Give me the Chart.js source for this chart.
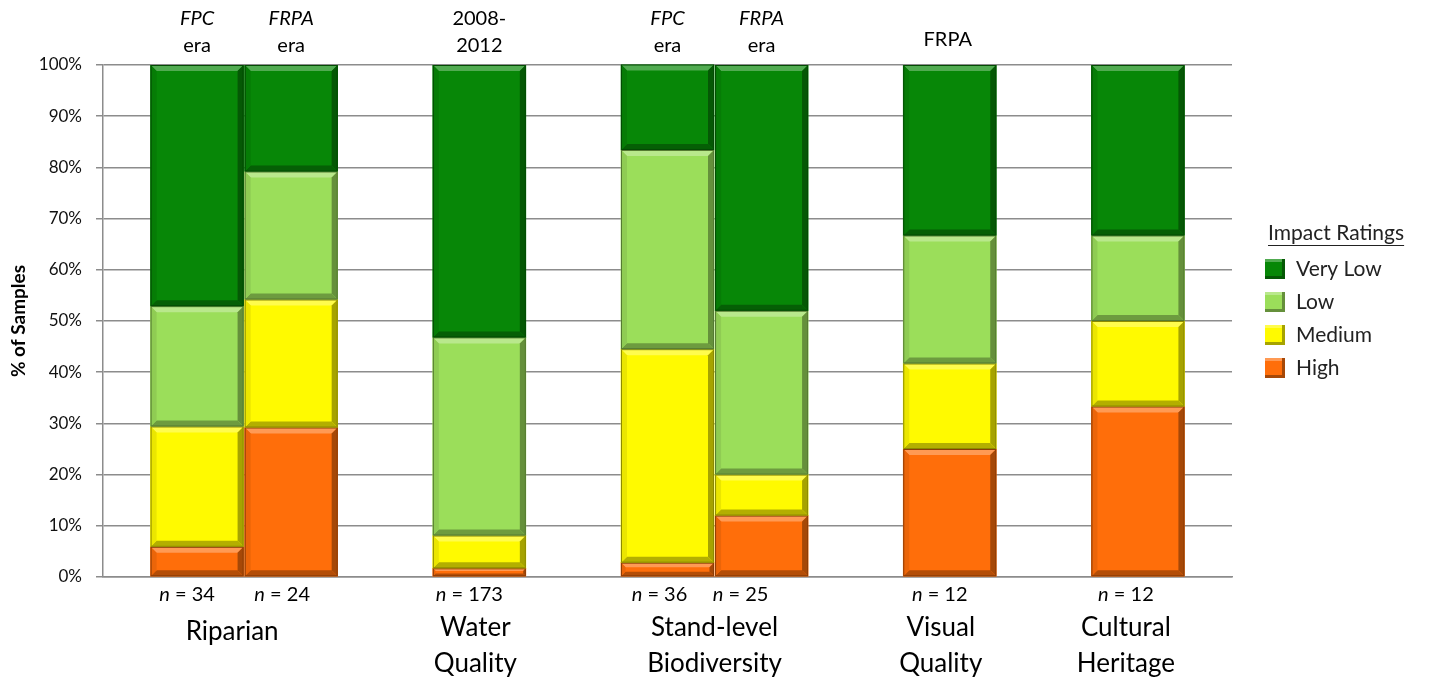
<!DOCTYPE html>
<html>
<head>
<meta charset="utf-8">
<script src="https://cdn.jsdelivr.net/npm/chart.js@4.4.1/dist/chart.umd.min.js"></script>
<style>
  html, body { margin: 0; padding: 0; background: #fff; }
  #wrap { width: 1439px; height: 681px; position: relative; }
</style>
</head>
<body>
<div id="wrap"><canvas id="impactChart"></canvas></div>
<script>
// slots on the x axis, empty strings are the gaps between groups
const slots = ["", "Riparian FPC", "Riparian FRPA", "", "Water Quality", "", "Biodiversity FPC", "Biodiversity FRPA", "", "Visual Quality", "", "Cultural Heritage", ""];

// % of samples per rating (null = no bar in that slot)
const high    = [null, 5.9, 29.2, null, 1.7, null, 2.8, 12.0, null, 25.0, null, 33.3, null];
const medium  = [null, 23.5, 25.0, null, 6.4, null, 41.7, 8.0, null, 16.7, null, 16.7, null];
const low     = [null, 23.5, 25.0, null, 38.7, null, 38.9, 32.0, null, 25.0, null, 16.7, null];
const veryLow = [null, 47.1, 20.8, null, 53.2, null, 16.7, 48.0, null, 33.3, null, 33.3, null];

const ratingNames = ["Very Low", "Low", "Medium", "High"];
const ratingColors = ["#078707", "#9bde5a", "#fffa00", "#ff6e0a"];

const sampleSizes = [null, "34", "24", null, "173", null, "36", "25", null, "12", null, "12", null];
// text over the bars: [first line, second line, italic first line]
const topLabels = [null, ["FPC", "era", true], ["FRPA", "era", true], null, ["2008-", "2012", false], null,
  ["FPC", "era", true], ["FRPA", "era", true], null, ["FRPA", null, false], null, null, null];
const groupNames = [["Riparian"], ["Water", "Quality"], ["Stand-level", "Biodiversity"], ["Visual", "Quality"], ["Cultural", "Heritage"]];
const groupSlots = [[1, 2], [4], [6, 7], [9], [11]];

const yTicks = [0, 10, 20, 30, 40, 50, 60, 70, 80, 90, 100];

const FONT = "Lato, 'Open Sans', sans-serif";

function mix(hex, target, amt) {
    let r = parseInt(hex.slice(1, 3), 16), g = parseInt(hex.slice(3, 5), 16), b = parseInt(hex.slice(5, 7), 16);
    r = Math.round(r + (target - r) * amt);
    g = Math.round(g + (target - g) * amt);
    b = Math.round(b + (target - b) * amt);
    return `rgb(${r},${g},${b})`;
}

// draws the raised look on each bar segment
const bevelPlugin = {
    id: "bevel",
    afterDatasetsDraw(chart) {
        const ctx = chart.ctx;
        chart.data.datasets.forEach((ds, di) => {
            const meta = chart.getDatasetMeta(di);
            const base = ds.backgroundColor;
            meta.data.forEach((el, i) => {
                if (ds.data[i] == null) return;
                const p = el.getProps(["x", "y", "base", "width"], true);
                const l = p.x - p.width / 2, r = p.x + p.width / 2;
                const t = Math.min(p.y, p.base), b = Math.max(p.y, p.base);
                const h = b - t;
                const bv = Math.min(6, h / 3);
                ctx.save();
                const poly = (pts, fill) => {
                    ctx.beginPath();
                    ctx.moveTo(pts[0][0], pts[0][1]);
                    for (let k = 1; k < pts.length; k++) ctx.lineTo(pts[k][0], pts[k][1]);
                    ctx.closePath();
                    ctx.fillStyle = fill;
                    ctx.fill();
                };
                poly([[l, t], [r, t], [r - bv, t + bv], [l + bv, t + bv]], mix(base, 255, 0.3));
                poly([[r, t], [r, b], [r - bv, b - bv], [r - bv, t + bv]], mix(base, 0, 0.35));
                poly([[l, b], [r, b], [r - bv, b - bv], [l + bv, b - bv]], mix(base, 0, 0.3));
                poly([[l, t], [l + bv, t + bv], [l + bv, b - bv], [l, b]], mix(base, 0, 0.08));
                ctx.strokeStyle = mix(base, 0, 0.45);
                ctx.lineWidth = 1;
                ctx.strokeRect(l + 0.5, t + 0.5, p.width - 1, h - 1);
                ctx.restore();
            });
        });
    }
};

// labels above and below bars, group names and legend
const textPlugin = {
    id: "texts",
    afterDraw(chart) {
        const ctx = chart.ctx;
        const xs = chart.scales.x;
        const nOffsets = [0, -10, -9, 0, -10, 0, -8, -21, 0, -10, 0, -12, 0];
        ctx.save();
        ctx.fillStyle = "#000";
        ctx.textBaseline = "middle";
        ctx.textAlign = "center";

        topLabels.forEach((lab, i) => {
            if (!lab) return;
            const x = xs.getPixelForValue(i);
            if (lab[1] == null) {
                ctx.font = `20px ${FONT}`;
                ctx.fillText(lab[0], x - 2, 40);
                return;
            }
            ctx.font = (lab[2] ? "italic " : "") + `20px ${FONT}`;
            ctx.fillText(lab[0], x, 19);
            ctx.font = `20px ${FONT}`;
            ctx.fillText(lab[1], x, 46);
        });

        sampleSizes.forEach((n, i) => {
            if (n == null) return;
            const cx = xs.getPixelForValue(i) + nOffsets[i];
            ctx.font = `italic 20px ${FONT}`;
            const w1 = ctx.measureText("n").width;
            ctx.font = `20px ${FONT}`;
            const rest = " = " + n;
            const w2 = ctx.measureText(rest).width;
            let x0 = cx - (w1 + w2) / 2;
            ctx.textAlign = "left";
            ctx.font = `italic 20px ${FONT}`;
            ctx.fillText("n", x0, 595);
            ctx.font = `20px ${FONT}`;
            ctx.fillText(rest, x0 + w1, 595);
            ctx.textAlign = "center";
        });

        ctx.font = `26px ${FONT}`;
        const groupShift = [-12, -4, 0, -9, -12];
        groupNames.forEach((g, gi) => {
            const s = groupSlots[gi];
            const cx = (xs.getPixelForValue(s[0]) + xs.getPixelForValue(s[s.length - 1])) / 2 + groupShift[gi];
            if (g.length === 1) {
                ctx.fillText(g[0], cx, 632);
            } else {
                ctx.fillText(g[0], cx, 628);
                ctx.fillText(g[1], cx, 664);
            }
        });

        // legend
        ctx.textAlign = "left";
        ctx.font = `21px ${FONT}`;
        ctx.fillStyle = "#222";
        const title = "Impact Ratings";
        ctx.fillText(title, 1268, 233);
        const tw = ctx.measureText(title).width;
        ctx.strokeStyle = "#222";
        ctx.lineWidth = 1.2;
        ctx.beginPath();
        ctx.moveTo(1268, 245.5);
        ctx.lineTo(1268 + tw, 245.5);
        ctx.stroke();
        ratingNames.forEach((name, k) => {
            const y = 269 + k * 33;
            const c = ratingColors[k];
            ctx.fillStyle = c;
            ctx.fillRect(1265, y - 10, 20, 20);
            ctx.fillStyle = mix(c, 255, 0.3);
            ctx.fillRect(1265, y - 10, 20, 3);
            ctx.fillStyle = mix(c, 0, 0.35);
            ctx.fillRect(1282, y - 10, 3, 20);
            ctx.fillRect(1265, y + 7, 20, 3);
            ctx.fillStyle = "#222";
            ctx.fillText(name, 1296, y);
        });
        ctx.restore();
    }
};

const datasets = [
    { label: "High", data: high, backgroundColor: ratingColors[3] },
    { label: "Medium", data: medium, backgroundColor: ratingColors[2] },
    { label: "Low", data: low, backgroundColor: ratingColors[1] },
    { label: "Very Low", data: veryLow, backgroundColor: ratingColors[0] }
].map(d => Object.assign(d, { borderWidth: 0, barThickness: 93 }));

const ctx = document.getElementById("impactChart").getContext("2d");
new Chart(ctx, {
    type: "bar",
    data: { labels: slots, datasets: datasets },
    options: {
        responsive: true,
        maintainAspectRatio: false,
        animation: false,
        devicePixelRatio: 1,
        layout: { padding: { left: 0, right: 207, top: 65, bottom: 0 } },
        plugins: { legend: { display: false }, tooltip: { enabled: false } },
        scales: {
            x: {
                stacked: true,
                offset: false,
                grid: { display: false },
                border: { color: "#8c8c8c", width: 1.5 },
                ticks: { display: false },
                afterFit(scale) { scale.height = 104; }
            },
            y: {
                stacked: true,
                min: 0,
                max: 100,
                afterBuildTicks(scale) { scale.ticks = yTicks.map(v => ({ value: v })); },
                ticks: {
                    padding: 14,
                    color: "#111",
                    font: { family: FONT, size: 17 },
                    callback: v => v + "%"
                },
                grid: { color: "#8c8c8c", lineWidth: 1.5, tickLength: 7 },
                border: { color: "#8c8c8c", width: 1.5 },
                title: {
                    display: true,
                    text: "% of Samples",
                    color: "#000",
                    font: { family: FONT, size: 19, weight: "bold" },
                    padding: { top: 7, bottom: 0 }
                },
                afterFit(scale) { scale.width = 103; }
            }
        }
    },
    plugins: [bevelPlugin, textPlugin]
});
</script>
</body>
</html>
